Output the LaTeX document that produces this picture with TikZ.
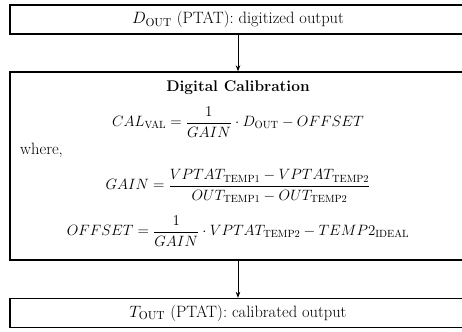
\RequirePackage{fix-cm}
\documentclass[tikz,border=0pt]{standalone}
\usepackage{amsmath}
\usetikzlibrary{arrows.meta}
\newcommand{\sub}[1]{\mathrm{#1}}
\begin{document}
\begin{tikzpicture}[x=1bp,y=-1bp,
  stage/.style={draw, line width=1.4bp, minimum width=456bp, minimum height=29bp,
    inner sep=0pt, font=\fontsize{16.5}{19}\selectfont},
  txt/.style={inner sep=0pt, font=\fontsize{16.5}{19}\selectfont},
  eqn/.style={inner sep=0pt, font=\fontsize{15}{18}\selectfont},
  flow/.style={-{Stealth[length=6bp,width=4.5bp]}, line width=0.7bp}]
\useasboundingbox (0,0) rectangle (462,331);
% three stages
\node[stage] (in) at (238,19.5) {$D_{\sub{OUT}}$ (PTAT): digitized output};
\node[stage, minimum height=188bp] (cal) at (238,166) {};
\node[stage] (out) at (238,313) {$T_{\sub{OUT}}$ (PTAT): calibrated output};
% calibration contents
\node[txt, font=\fontsize{15.5}{18}\selectfont\bfseries] (title) at (238,88) {Digital Calibration};
\node[eqn] (eqcal) at (238,122)
  {$\displaystyle CAL_{\sub{VAL}} = \frac{1}{GAIN}\cdot D_{\sub{OUT}} - OFFSET$};
\node[txt, anchor=west] (where) at (20,150) {where,};
\node[eqn] (eqgain) at (238,186)
  {$\displaystyle GAIN = \frac{VPTAT_{\sub{TEMP1}} - VPTAT_{\sub{TEMP2}}}{OUT_{\sub{TEMP1}} - OUT_{\sub{TEMP2}}}$};
\node[eqn] (eqoff) at (238,231)
  {$\displaystyle OFFSET = \frac{1}{GAIN}\cdot VPTAT_{\sub{TEMP2}} - TEMP2_{\sub{IDEAL}}$};
% flow arrows
\draw[flow] (in) -- (cal);
\draw[flow] (cal) -- (out);
\end{tikzpicture}
\end{document}
